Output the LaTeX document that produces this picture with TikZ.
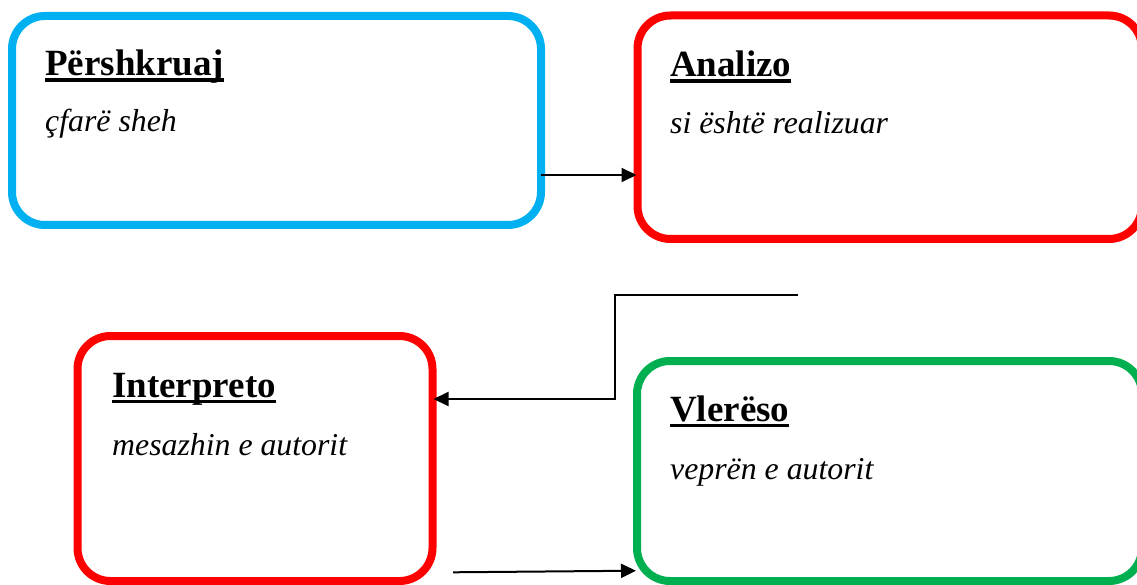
\documentclass[tikz,border=0pt]{standalone}
\usepackage{fontspec}
\setmainfont{Liberation Serif}
\usetikzlibrary{arrows.meta}
\definecolor{cblue}{HTML}{00B0F0}
\definecolor{cred}{HTML}{FF0000}
\definecolor{cgreen}{HTML}{00B050}
\newcommand\myul[1]{\setbox0\hbox{#1}\rlap{\rule[-6.2pt]{\wd0}{3.7pt}}\box0}
\begin{document}
\begin{tikzpicture}[x=1pt,y=-1pt,
  card/.style={draw, rectangle, rounded corners=33pt, line width=8pt, outer sep=0pt, inner sep=0pt},
  ttl/.style={anchor=base west, inner sep=0pt, font=\fontsize{37}{44}\selectfont\bfseries},
  sub/.style={anchor=base west, inner sep=0pt, font=\fontsize{31.8}{38}\selectfont\itshape},
  arr/.style={line width=2pt, shorten >=1pt, -{Triangle[length=15pt,width=14pt]}}]
\useasboundingbox (0,0) rectangle (1137,585);
\begin{scope}
\clip (0,0) rectangle (1137,585);
\node[card, draw=cblue, minimum width=529pt, minimum height=209pt] (b1) at (276.5,120.5) {};
\node[card, draw=cred, minimum width=504.5pt, minimum height=223.5pt] (b2) at (889.75,127.25) {};
\node[card, draw=cred, minimum width=355pt, minimum height=245pt] (b3) at (255,458.5) {};
\node[card, draw=cgreen, minimum width=505pt, minimum height=220pt] (b4) at (889.5,471) {};
\end{scope}
\node[ttl] (t1) at (45,75.5) {\myul{Përshkruaj}};
\node[sub] (s1) at (45,132) {çfarë sheh};
\node[ttl] (t2) at (670,77) {\myul{Analizo}};
\node[sub] (s2) at (670,134) {si është realizuar};
\node[ttl] (t3) at (112,397) {\myul{Interpreto}};
\node[sub] (s3) at (112,455) {mesazhin e autorit};
\node[ttl] (t4) at (670,421) {\myul{Vlerëso}};
\node[sub] (s4) at (670,479) {veprën e autorit};
\coordinate (c2) at (798,295);
\coordinate (c3) at (453,572.3);
\draw[arr] (b1.east |- 0,175) -- (b2.west |- 0,175);
\draw[arr] (c2) -- (615,295) -- (615,399) -- (b3.east |- 0,399);
\draw[arr] (c3) -- (b4.west |- 0,570.7);
\end{tikzpicture}
\end{document}
